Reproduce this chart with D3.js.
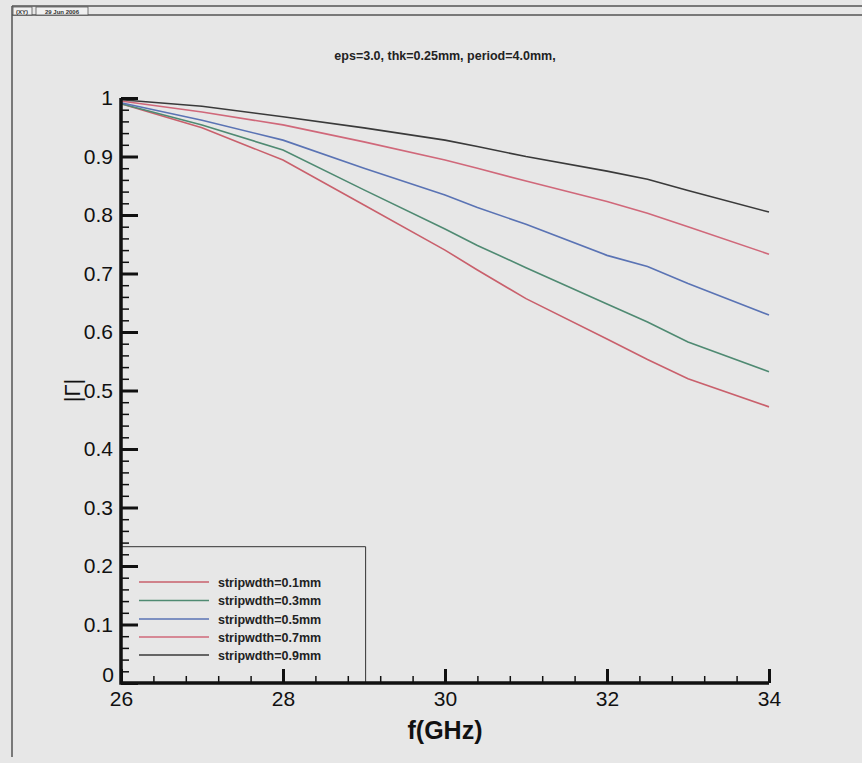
<!DOCTYPE html>
<html><head><meta charset="utf-8">
<script src="https://cdn.jsdelivr.net/npm/d3@7"></script>
<style>
html,body{margin:0;padding:0;background:#e7e7e7;}
svg{display:block;font-family:"Liberation Sans",Arial,sans-serif;}
</style></head>
<body>
<script>
// ---- data ----
const freq = [26, 27, 28, 29, 30, 30.4, 31, 32, 32.5, 33, 34];
const seriesNames = ["stripwdth=0.1mm","stripwdth=0.3mm","stripwdth=0.5mm","stripwdth=0.7mm","stripwdth=0.9mm"];
const s01 = [0.990, 0.949, 0.894, 0.817, 0.740, 0.706, 0.657, 0.588, 0.553, 0.520, 0.472];
const s03 = [0.990, 0.954, 0.911, 0.843, 0.776, 0.748, 0.710, 0.648, 0.617, 0.583, 0.532];
const s05 = [0.992, 0.962, 0.928, 0.880, 0.834, 0.813, 0.784, 0.731, 0.712, 0.683, 0.629];
const s07 = [0.995, 0.976, 0.954, 0.925, 0.894, 0.880, 0.858, 0.823, 0.803, 0.780, 0.733];
const s09 = [0.997, 0.986, 0.968, 0.949, 0.928, 0.917, 0.900, 0.875, 0.861, 0.842, 0.805];
const seriesColors = ["#c9606c","#4f8a72","#5a73b4","#d0687a","#3a3a3a"];
const xTicks = [26, 28, 30, 32, 34];
const yTicks = [0, 0.1, 0.2, 0.3, 0.4, 0.5, 0.6, 0.7, 0.8, 0.9, 1];
const yTickLabels = ["0", "0.1", "0.2", "0.3", "0.4", "0.5", "0.6", "0.7", "0.8", "0.9", "1"];
const titleText = "eps=3.0, thk=0.25mm, period=4.0mm,";
const xLabel = "f(GHz)";
const yLabel = "|Γ|";

const W = 862, H = 763;
const svg = d3.select("body").append("svg").attr("width", W).attr("height", H);
svg.append("rect").attr("width", W).attr("height", H).attr("fill", "#e7e7e7");

// frame / header
const fr = svg.append("g").attr("stroke", "#555").attr("fill", "none");
fr.append("line").attr("x1", 12).attr("x2", W).attr("y1", 6).attr("y2", 6).attr("stroke-width", 1.5);
fr.append("line").attr("x1", 12).attr("x2", W).attr("y1", 15).attr("y2", 15).attr("stroke-width", 1.5);
fr.append("line").attr("x1", 12).attr("x2", 12).attr("y1", 6).attr("y2", 757).attr("stroke-width", 1.5);
fr.append("rect").attr("x", 13).attr("y", 7).attr("width", 19).attr("height", 8).attr("fill", "#f0f0f0").attr("stroke-width", 0.8);
fr.append("rect").attr("x", 36).attr("y", 7).attr("width", 52).attr("height", 8).attr("fill", "#f0f0f0").attr("stroke-width", 0.8);
svg.append("text").attr("x", 22).attr("y", 13.5).attr("text-anchor", "middle").attr("font-size", 6).attr("font-weight", "bold").attr("fill", "#333").text("(XY)");
svg.append("text").attr("x", 62).attr("y", 13.5).attr("text-anchor", "middle").attr("font-size", 6).attr("font-weight", "bold").attr("fill", "#333").text("29 Jun 2006");

const x = d3.scaleLinear().domain([26, 34]).range([121, 769]);
const y = d3.scaleLinear().domain([0, 1]).range([683, 98]);

// title
svg.append("text").attr("x", 445).attr("y", 60).attr("text-anchor", "middle")
  .attr("font-size", 12.5).attr("font-weight", "bold").attr("fill", "#222").text(titleText);

// curves
const allSeries = [s01, s03, s05, s07, s09];
const line = d3.line().x((d, i) => x(freq[i])).y(d => y(d));
allSeries.forEach((s, k) => {
  svg.append("path").datum(s).attr("d", line).attr("fill", "none")
    .attr("stroke", seriesColors[k]).attr("stroke-width", 1.6);
});

// legend
const lg = svg.append("g");
lg.append("path").attr("d", `M${x(26)},${y(0.233)}H${x(29.02)}V${y(0)}`).attr("fill", "none").attr("stroke", "#333").attr("stroke-width", 1);
const legY = [582, 600.5, 619, 637, 655];
seriesNames.forEach((n, k) => {
  lg.append("line").attr("x1", 139).attr("x2", 209).attr("y1", legY[k]).attr("y2", legY[k])
    .attr("stroke", seriesColors[k]).attr("stroke-width", 1.5);
  lg.append("text").attr("x", 218).attr("y", legY[k] + 4.5).attr("font-size", 12.5).attr("font-weight", "bold")
    .attr("fill", "#222").text(n);
});

// axes
const gx = svg.append("g").attr("transform", `translate(0,${y(0)})`);
gx.call(d3.axisBottom(x).tickValues(d3.range(26, 34.001, 0.4)).tickSize(-7).tickFormat(""));
gx.call(g => g.selectAll(".tick line").attr("stroke-width", 1.5).attr("stroke", "#111"));
gx.call(g => g.select(".domain").remove());
const gx2 = svg.append("g").attr("transform", `translate(0,${y(0)})`);
gx2.call(d3.axisBottom(x).tickValues(xTicks).tickSize(-14).tickPadding(10).tickFormat(d3.format("d")));
gx2.select(".domain").remove();
gx2.selectAll(".tick line").attr("stroke-width", 3).attr("stroke", "#111");
gx2.selectAll(".tick text").attr("font-size", 21).attr("fill", "#111").attr("dy", "0.9em").attr("y", 4);

const gy = svg.append("g").attr("transform", `translate(${x(26)},0)`);
gy.call(d3.axisLeft(y).tickValues(d3.range(0, 1.0001, 0.02)).tickSize(-8).tickFormat(""));
gy.call(g => g.selectAll(".tick line").attr("stroke-width", 1.5).attr("stroke", "#111"));
gy.call(g => g.select(".domain").remove());
const gy2 = svg.append("g").attr("transform", `translate(${x(26)},0)`);
gy2.call(d3.axisLeft(y).tickValues(yTicks).tickSize(-17).tickPadding(8).tickFormat((d, i) => yTickLabels[i]));
gy2.select(".domain").remove();
gy2.selectAll(".tick line").attr("stroke-width", 3).attr("stroke", "#111");
gy2.selectAll(".tick text").attr("font-size", 21).attr("fill", "#111");
gy2.selectAll(".tick").filter(d => d === 0).select("text").attr("x", -7).attr("dy", "-0.05em");

// axis lines
svg.append("path").attr("d", `M${x(26)},${y(1)}V${y(0)}H${x(34)}`).attr("fill", "none")
  .attr("stroke", "#111").attr("stroke-width", 3.5);

// axis titles
svg.append("text").attr("x", 445).attr("y", 739).attr("text-anchor", "middle")
  .attr("font-size", 25).attr("font-weight", "bold").attr("fill", "#111").text(xLabel);
svg.append("text").attr("transform", `translate(80,${y(0.5)}) rotate(-90)`).attr("text-anchor", "middle")
  .attr("font-size", 22).attr("fill", "#111").text(yLabel);
</script>
</body></html>
